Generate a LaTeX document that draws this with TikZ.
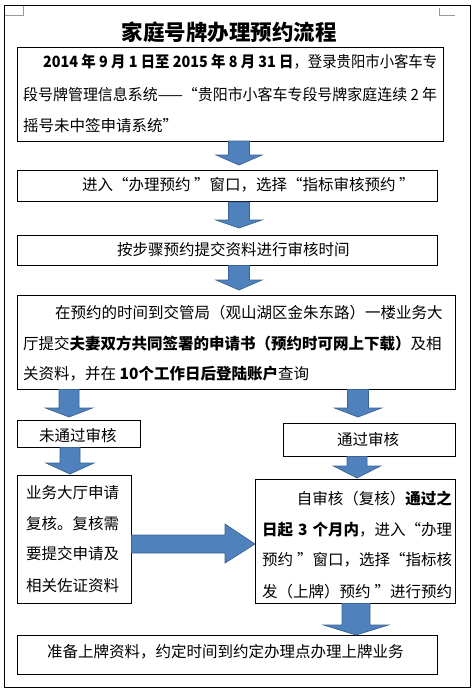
\documentclass[tikz,border=0pt]{standalone}
\usepackage{fontspec}
\usepackage{graphicx}
\setmainfont{Noto Sans CJK SC}
\XeTeXlinebreaklocale "zh"
\XeTeXlinebreakskip=0pt plus 4pt minus 1pt
\definecolor{arrowfill}{HTML}{4F81BD}
\definecolor{arrowline}{HTML}{3A6393}
\newsavebox\jlinebox
\newcommand\jline[2]{%
  \sbox\jlinebox{#2}%
  \ifdim\wd\jlinebox>#1\relax
    \scalebox{\fpeval{#1/\the\wd\jlinebox}}[1]{\usebox\jlinebox}%
  \else
    \hbox to #1{#2}%
  \fi}
\newcommand\dnarrow[6]{%
  \filldraw[blockarrow] (#1-#5,#2) -- (#1-#5,#3) -- (#1-#6,#3) -- (#1,#4) -- (#1+#6,#3) -- (#1+#5,#3) -- (#1+#5,#2) -- cycle;}
\tikzset{
  box/.style={draw=black, line width=0.8pt, inner sep=0pt},
  txt/.style={font=\fontsize{15.5}{18}\selectfont, inner sep=0pt, anchor=west},
  blockarrow/.style={fill=arrowfill, draw=arrowline, line width=0.7pt, line join=miter},
  crop/.style={draw=gray!80, line width=0.8pt}
}
\begin{document}
\begin{tikzpicture}[x=1pt,y=-1pt]
\useasboundingbox (0,0) rectangle (474,691);
% page frame and crop marks
\draw[line width=0.9pt] (4.5,5.5) rectangle (470,687);
\draw[crop] (4.5,15) -- (23,15) -- (23,6);
\draw[crop] (439,8) -- (439,15) -- (455,15);
% title
\node[font=\fontsize{21.5}{24}\selectfont\bfseries, inner sep=0pt] (title) at (229,32.5) {家庭号牌办理预约流程};
% boxes
\node[box, minimum width=426pt, minimum height=94pt] (b1) at (230,94) {};
\node[box, minimum width=420pt, minimum height=31.5pt] (b2) at (227,185.75) {};
\node[box, minimum width=420pt, minimum height=30pt] (b3) at (227,250) {};
\node[box, minimum width=438pt, minimum height=94pt] (b4) at (236,342) {};
\node[box, minimum width=123pt, minimum height=27pt] (b5a) at (78.5,433.5) {};
\node[box, minimum width=172pt, minimum height=33pt] (b5b) at (369,439.5) {};
\node[box, minimum width=114pt, minimum height=128pt] (b6a) at (74,539) {};
\node[box, minimum width=200pt, minimum height=124pt] (b6b) at (355,541) {};
\node[box, minimum width=420pt, minimum height=39pt] (b7) at (227,654.5) {};
% texts
\node[txt] (t1a) at (43,62) {\jline{394pt}{\bfseries 2014 年 9 月 1 日至 2015 年 8 月 31 日\mdseries，登录贵阳市小客车专}};
\node[txt] (t1b) at (23,95) {\jline{414pt}{段号牌管理信息系统——“贵阳市小客车专段号牌家庭连续 2 年}};
\node[txt] (t1c) at (23,125.5) {摇号未中签申请系统”};
\node[txt] (t2) at (82,184.5) {进入“办理预约 ”窗口，选择“指标审核预约 ”};
\node[txt] (t3) at (117,249.5) {按步骤预约提交资料进行审核时间};
\node[txt] (t4a) at (55,313) {\jline{395pt}{在预约的时间到交管局（观山湖区金朱东路）一楼业务大}};
\node[txt] (t4b) at (23,344) {\jline{427pt}{厅提交\bfseries 夫妻双方共同签署的申请书（预约时可网上下载）\mdseries 及相}};
\node[txt] (t4c) at (23,374) {关资料，并在 \textbf{10个工作日后登陆账户}查询};
\node[txt] (t5a) at (39,436) {未通过审核};
\node[txt] (t5b) at (337,440) {通过审核};
\node[txt] (t6a1) at (26,493) {业务大厅申请};
\node[txt] (t6a2) at (26,524) {复核。复核需};
\node[txt] (t6a3) at (26,554) {要提交申请及};
\node[txt] (t6a4) at (26,586) {相关佐证资料};
\node[txt, anchor=east] (t6b1) at (452,499) {自审核（复核）\textbf{通过之}};
\node[txt] (t6b2) at (262,530) {\jline{190pt}{\bfseries 日起 3 个月内\mdseries，进入“办理}};
\node[txt] (t6b3) at (262,560) {\jline{190pt}{预约 ”窗口，选择“指标核}};
\node[txt] (t6b4) at (262,592) {\jline{190pt}{发（上牌）预约 ”进行预约}};
\node[txt] (t7) at (47,652) {准备上牌资料，约定时间到约定办理点办理上牌业务};
% block arrows
\dnarrow{239}{141}{155}{165}{10.5}{23}
\dnarrow{239}{202}{220}{228}{10.5}{23}
\dnarrow{239}{265.5}{280}{290}{10.5}{23}
\dnarrow{69}{389.5}{408}{417}{10}{23.5}
\dnarrow{358}{389.5}{408}{417}{10.5}{23.5}
\dnarrow{70}{447.5}{463}{474}{10}{24}
\dnarrow{357}{456.5}{466}{478}{10}{23.5}
\dnarrow{356}{603.5}{625}{635}{14}{32.5}
\filldraw[blockarrow] (b6a.east |- 0,535) -- (225,535) -- (225,524) -- (255,544) -- (225,563) -- (225,553) -- (b6a.east |- 0,553) -- cycle;
\end{tikzpicture}
\end{document}
